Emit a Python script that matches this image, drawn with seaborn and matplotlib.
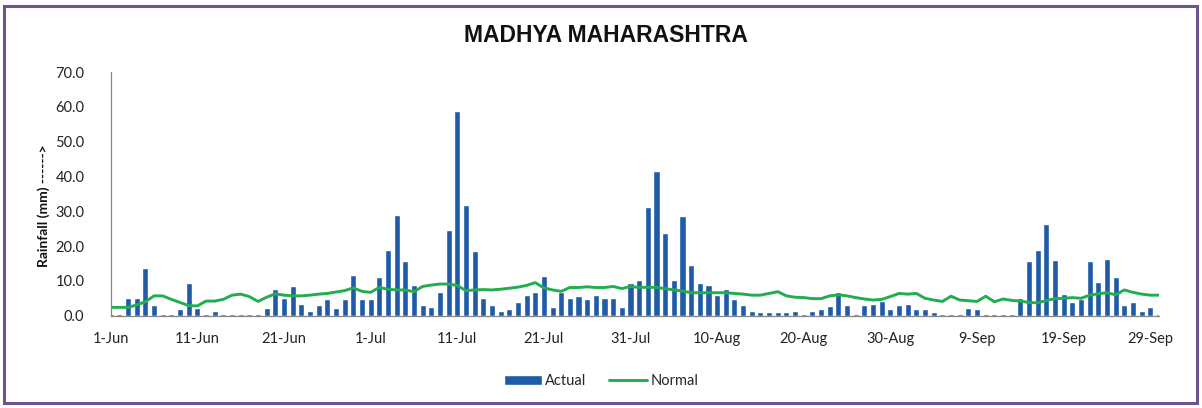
import numpy as np
import pandas as pd
import matplotlib
matplotlib.use("Agg")
import matplotlib.pyplot as plt
from matplotlib.patches import Rectangle
import seaborn as sns

# Daily rainfall (mm), 1 June - 30 September
actual = [
    0.5, 0.5, 5.2, 5.2, 13.8, 3.1, 0.5, 0.5, 1.8, 9.3,
    2.3, 0.5, 1.3, 0.5, 0.5, 0.5, 0.5, 0.5, 2.3, 7.6,
    5.2, 8.5, 3.5, 1.3, 3.1, 4.7, 2.2, 4.7, 11.8, 4.7,
    4.7, 11.0, 18.8, 28.8, 15.6, 8.8, 3.1, 2.6, 6.8, 24.6,
    58.7, 31.7, 18.5, 5.2, 3.1, 1.4, 1.8, 3.8, 6.0, 6.8,
    11.3, 2.6, 6.8, 5.2, 5.6, 4.7, 6.0, 5.2, 5.2, 2.6,
    9.3, 10.2, 31.3, 41.7, 23.8, 10.2, 28.5, 14.7, 9.3, 8.8,
    6.0, 7.6, 4.7, 3.1, 1.4, 1.0, 1.0, 1.0, 1.0, 1.4,
    0.5, 1.4, 1.8, 2.7, 6.8, 3.1, 0.5, 3.1, 3.5, 4.3,
    1.8, 3.1, 3.5, 1.8, 1.8, 1.0, 0.5, 0.5, 0.5, 2.2,
    1.8, 0.5, 0.5, 0.5, 0.5, 5.2, 15.6, 18.8, 26.3, 16.0,
    6.3, 3.8, 4.7, 15.6, 9.7, 16.3, 11.0, 3.1, 3.8, 1.4,
    2.6, 0.5,
]

normal = [
    2.4, 2.4, 2.4, 3.1, 4.0, 5.7, 5.7, 4.7, 3.8, 2.9,
    2.8, 4.2, 4.2, 4.7, 5.9, 6.2, 5.5, 4.1, 5.3, 6.3,
    5.9, 5.7, 5.7, 5.9, 6.2, 6.4, 6.8, 7.2, 8.0, 7.0,
    6.7, 8.1, 7.6, 7.4, 7.4, 6.9, 8.4, 8.8, 9.1, 9.1,
    8.7, 7.2, 7.4, 7.5, 7.4, 7.6, 7.9, 8.2, 8.7, 9.5,
    8.0, 7.4, 7.0, 8.1, 8.1, 8.3, 8.1, 8.1, 8.4, 7.8,
    8.4, 8.1, 8.2, 8.1, 7.8, 7.4, 7.1, 6.6, 6.6, 6.6,
    6.6, 6.6, 6.4, 6.2, 5.9, 5.9, 6.4, 6.9, 5.7, 5.3,
    5.2, 4.9, 4.9, 5.7, 6.0, 5.7, 5.2, 4.8, 4.5, 4.7,
    5.5, 6.4, 6.2, 6.4, 5.0, 4.5, 4.1, 5.6, 4.5, 4.3,
    4.1, 5.6, 4.0, 4.8, 4.4, 4.2, 3.8, 3.7, 4.4, 4.9,
    5.0, 5.2, 5.0, 5.9, 6.3, 6.6, 6.0, 7.4, 6.7, 6.2,
    5.9, 5.9,
]

tick_labels = ["1-Jun", "11-Jun", "21-Jun", "1-Jul", "11-Jul", "21-Jul",
               "31-Jul", "10-Aug", "20-Aug", "30-Aug", "9-Sep", "19-Sep", "29-Sep"]

day = np.arange(len(actual))
df = pd.DataFrame({"day": day, "Actual": actual, "Normal": normal})

sns.set_style("white")
plt.rcParams["font.family"] = ["Lato", "DejaVu Sans"]

BAR = "#1F5BA8"
LINE = "#22AD4E"
AXIS = "#868686"

fig = plt.figure(figsize=(12.02, 4.08), dpi=100)
ax = fig.add_axes([0.0921, 0.2262, 0.9642 - 0.0921, 0.8235 - 0.2262])

sns.barplot(data=df, x="day", y="Actual", native_scale=True, width=0.7,
            color=BAR, errorbar=None, label="Actual", ax=ax, saturation=1)
sns.lineplot(data=df, x="day", y="Normal", color=LINE, linewidth=2.1,
             label="Normal", ax=ax)

ax.set_xlim(0, len(actual) - 1)
ax.set_ylim(0, 70)
ax.set_yticks(np.arange(0, 71, 10))
ax.set_yticklabels([f"{v:.1f}" for v in np.arange(0, 71, 10)])
ax.set_xticks(np.arange(0, len(actual), 10))
ax.set_xticklabels(tick_labels)

for side in ("top", "right"):
    ax.spines[side].set_visible(False)
for side in ("left", "bottom"):
    ax.spines[side].set_color(AXIS)
    ax.spines[side].set_linewidth(0.9)

ax.tick_params(axis="both", which="both", direction="out", length=5,
               width=0.9, color=AXIS, labelsize=10.5, labelcolor="#222222")
ax.tick_params(axis="y", pad=14)
ax.tick_params(axis="x", pad=7)
ax.grid(False)

ax.set_xlabel("")
ax.set_ylabel("Rainfall (mm) ------>", fontsize=10, fontweight="bold",
              color="#111111")
ax.yaxis.set_label_coords(-0.058, 0.45)

fig.text(0.504, 0.914, "MADHYA MAHARASHTRA", ha="center", va="center",
         fontsize=16.5, fontweight="bold", color="#111111",
         family=["Liberation Sans Narrow", "Liberation Sans", "DejaVu Sans"])

handles, labels = ax.get_legend_handles_labels()
order = [labels.index("Actual"), labels.index("Normal")]
ax.legend([handles[i] for i in order], [labels[i] for i in order],
          loc="center", bbox_to_anchor=(0.5, 0.066),
          bbox_transform=fig.transFigure, ncol=2, frameon=False,
          fontsize=10.5, handlelength=2.6, handleheight=0.65,
          columnspacing=1.6, handletextpad=0.2)

fig.patches.append(Rectangle((0.003, 0.012), 0.993, 0.974,
                             transform=fig.transFigure, fill=False,
                             edgecolor="#6E548F", linewidth=2.2))

fig.savefig("out.png", dpi=100)
